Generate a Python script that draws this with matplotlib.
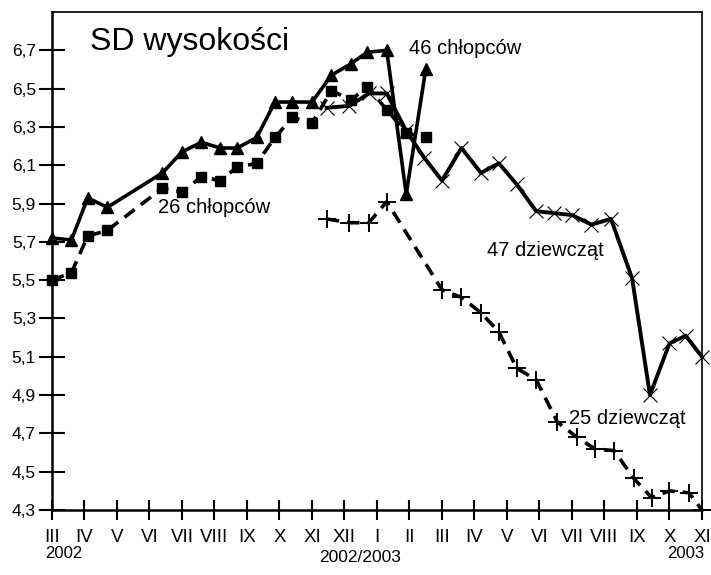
import matplotlib
matplotlib.use("Agg")
import matplotlib.pyplot as plt

plt.rcParams['font.family'] = ['Liberation Sans', 'DejaVu Sans']

# month index: 0 = III 2002 ... 20 = XI 2003
months = ["III", "IV", "V", "VI", "VII", "VIII", "IX", "X", "XI", "XII", "I",
          "II", "III", "IV", "V", "VI", "VII", "VIII", "IX", "X", "XI"]
y_ticks = [4.3, 4.5, 4.7, 4.9, 5.1, 5.3, 5.5, 5.7, 5.9, 6.1, 6.3, 6.5, 6.7]

# boys (measurement time as month index)
boys_t = [0, 0.6, 1.1, 1.7, 3.4, 4.0, 4.6, 5.17, 5.7, 6.3, 6.86, 7.4, 8.0,
          8.6, 9.2, 9.7, 10.3, 10.9, 11.5]
boys46 = [5.72, 5.71, 5.93, 5.88, 6.06, 6.17, 6.22, 6.19, 6.19, 6.245, 6.43,
          6.43, 6.43, 6.57, 6.63, 6.69, 6.70, 5.95, 6.60]
boys26 = [5.50, 5.54, 5.73, 5.76, 5.98, 5.96, 6.04, 6.02, 6.09, 6.11, 6.245,
          6.35, 6.32, 6.49, 6.44, 6.51, 6.39, 6.27, 6.245]

# girls
girls47_t = [8.45, 9.15, 9.75, 10.3, 10.9, 11.45, 12.0, 12.6, 13.2, 13.75,
             14.3, 14.9, 15.45, 16.0, 16.6, 17.2, 17.85, 18.4, 19.0, 19.5, 20.0]
girls47 = [6.40, 6.41, 6.475, 6.475, 6.28, 6.14, 6.02, 6.19, 6.06, 6.11,
           6.00, 5.86, 5.85, 5.84, 5.79, 5.82, 5.51, 4.90, 5.17, 5.21, 5.10]
girls25_t = [8.45, 9.15, 9.75, 10.3, 12.0, 12.6, 13.2, 13.75, 14.3, 14.9,
             15.55, 16.15, 16.7, 17.3, 17.9, 18.45, 19.0, 19.6, 20.0]
girls25 = [5.82, 5.80, 5.80, 5.91, 5.45, 5.41, 5.33, 5.23, 5.04, 4.98,
           4.76, 4.68, 4.62, 4.61, 4.465, 4.365, 4.40, 4.39, 4.30]

fig = plt.figure(figsize=(7.11, 5.75), dpi=100)
ax = fig.add_axes([0.0731, 0.1130, 0.9142, 0.8661])

ax.plot(boys_t, boys46, color="black", linewidth=2.6, marker="^",
        markersize=9, clip_on=False)
ax.plot(boys_t, boys26, color="black", linewidth=2.6, linestyle=(0, (3.5, 2.2)),
        marker="s", markersize=7, clip_on=False)
ax.plot(girls47_t, girls47, color="black", linewidth=2.8, marker="x",
        markersize=10, markeredgewidth=0.8, clip_on=False)
ax.plot(girls25_t, girls25, color="black", linewidth=2.6, linestyle=(0, (3.5, 2.2)),
        marker="+", markersize=13, markeredgewidth=1.4, clip_on=False)

ax.set_xlim(0, 20)
ax.set_ylim(4.3, 6.9)
ax.set_xticks(range(len(months)))
ax.set_xticklabels(months, fontsize=13.5)
ax.set_yticks(y_ticks)
ax.set_yticklabels([f"{v:.1f}".replace(".", ",") for v in y_ticks], fontsize=12.5)

ax.tick_params(axis="x", direction="inout", length=14, width=1.5, pad=7)
ax.tick_params(axis="y", direction="inout", length=19, width=1.5, pad=2)
for side in ["left", "bottom"]:
    ax.spines[side].set_linewidth(1.8)
for side in ["top", "right"]:
    ax.spines[side].set_linewidth(1.2)

ax.text(0.058, 0.94, "SD wysokości", transform=ax.transAxes, fontsize=23,
        va="center", ha="left")
ax.text(11.0, 6.71, "46 chłopców", fontsize=14.5, va="center", ha="left")
ax.text(3.26, 5.88, "26 chłopców", fontsize=14.5, va="center", ha="left")
ax.text(13.4, 5.655, "47 dziewcząt", fontsize=14.5, va="center", ha="left")
ax.text(15.9, 4.78, "25 dziewcząt", fontsize=14.5, va="center", ha="left")

fig.text(45 / 711, 1 - 553 / 575, "2002", fontsize=12, va="center", ha="left")
fig.text(360 / 711, 1 - 558 / 575, "2002/2003", fontsize=12.5, va="center", ha="center")
fig.text(704 / 711, 1 - 553 / 575, "2003", fontsize=12, va="center", ha="right")

fig.savefig("out.png", dpi=100)
